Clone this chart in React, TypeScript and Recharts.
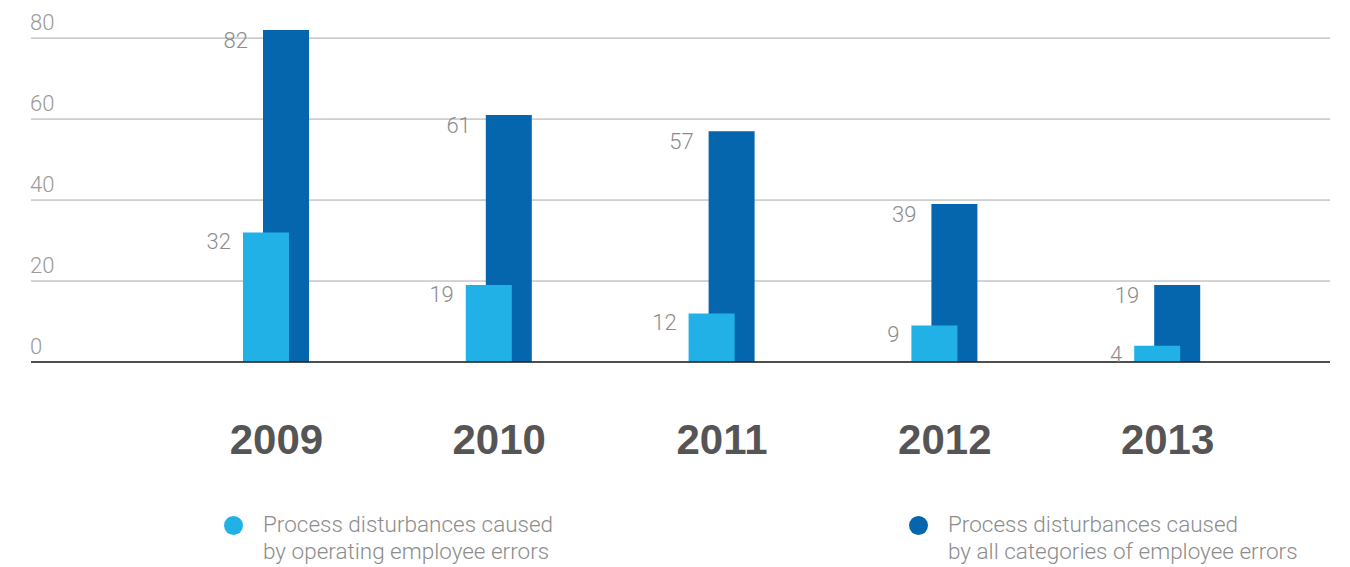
import { BarChart, Bar, XAxis, YAxis, CartesianGrid, LabelList, Legend } from 'recharts';

const years = ['2009', '2010', '2011', '2012', '2013'];
const operatingErrors = [32, 19, 12, 9, 4];
const allErrors = [82, 61, 57, 39, 19];
const yTicks = [0, 20, 40, 60, 80];

const seriesNames = {
    operating: 'Process disturbances caused\nby operating employee errors',
    all: 'Process disturbances caused\nby all categories of employee errors',
};

const LIGHT = '#21b1e7';
const DARK = '#0566ae';
const THIN_FONT = 'Roboto, "Open Sans", sans-serif';

const data = years.map((year, i) => ({
    year,
    operating: operatingErrors[i],
    all: allErrors[i],
}));

const YTick = ({ y, payload }: any) => (
    <text x={30} y={y - 16} textAnchor="start" dominantBaseline="central" fontFamily={THIN_FONT} fontWeight={300} fontSize={22} fill="#9a9a9a">
        {payload.value}
    </text>
);

const YearTick = ({ x, y, payload }: any) => (
    <text x={x + 10} y={y + 69} textAnchor="middle" dominantBaseline="central" fontFamily='"Liberation Sans", Arial, sans-serif' fontWeight={700} fontSize={42} fill="#555555">
        {payload.value}
    </text>
);

const makeLabel = (dx: number, dy: number) => (props: any) => {
    const { x, y, value } = props;
    return (
        <text x={x - dx} y={y + dy} textAnchor="end" dominantBaseline="central" fontFamily={THIN_FONT} fontWeight={300} fontSize={22} fill="#8c8c8c">
            {value}
        </text>
    );
};

const LegendItem = ({ left, color, label }: { left: number; color: string; label: string }) => (
    <div style={{ position: 'absolute', left, top: 0, height: 95 }}>
        <div style={{ position: 'absolute', left: 0, top: 44, width: 19, height: 19, borderRadius: '50%', background: color }} />
        <div style={{ position: 'absolute', left: 39, top: 39, whiteSpace: 'pre', fontFamily: THIN_FONT, fontWeight: 300, fontSize: 22.5, lineHeight: '27px', color: '#8c8c8c' }}>
            {label}
        </div>
    </div>
);

const renderLegend = () => (
    <div style={{ position: 'relative', width: 1350, height: 95 }}>
        <LegendItem left={224} color={LIGHT} label={seriesNames.operating} />
        <LegendItem left={909} color={DARK} label={seriesNames.all} />
    </div>
);

export default function App() {
    return (
        <div style={{ position: 'absolute', left: 0, top: 0, background: '#fff' }}>
            <BarChart width={1350} height={567} data={data} margin={{ top: 30, right: 20, left: 30, bottom: 0 }}>
                <CartesianGrid vertical={false} horizontalValues={yTicks} stroke="#a8a8a8" />
                <XAxis
                    xAxisId="light"
                    dataKey="year"
                    height={110}
                    padding={{ left: 124, right: 61 }}
                    axisLine={{ stroke: '#222', strokeWidth: 1.5 }}
                    tickLine={false}
                    tick={<YearTick />}
                    interval={0}
                />
                <XAxis xAxisId="dark" dataKey="year" hide height={0} padding={{ left: 144, right: 41 }} />
                <YAxis
                    domain={[0, 82]}
                    ticks={yTicks}
                    width={1}
                    axisLine={false}
                    tickLine={false}
                    tickMargin={0}
                    tick={<YTick />}
                />
                <Legend verticalAlign="bottom" content={renderLegend} wrapperStyle={{ left: 0, width: 1350 }} />
                <Bar xAxisId="dark" dataKey="all" name={seriesNames.all} fill={DARK} barSize={46} isAnimationActive={false}>
                    <LabelList dataKey="all" content={makeLabel(15, 10)} />
                </Bar>
                <Bar xAxisId="light" dataKey="operating" name={seriesNames.operating} fill={LIGHT} barSize={46} isAnimationActive={false}>
                    <LabelList dataKey="operating" content={makeLabel(12, 9)} />
                </Bar>
            </BarChart>
        </div>
    );
}
